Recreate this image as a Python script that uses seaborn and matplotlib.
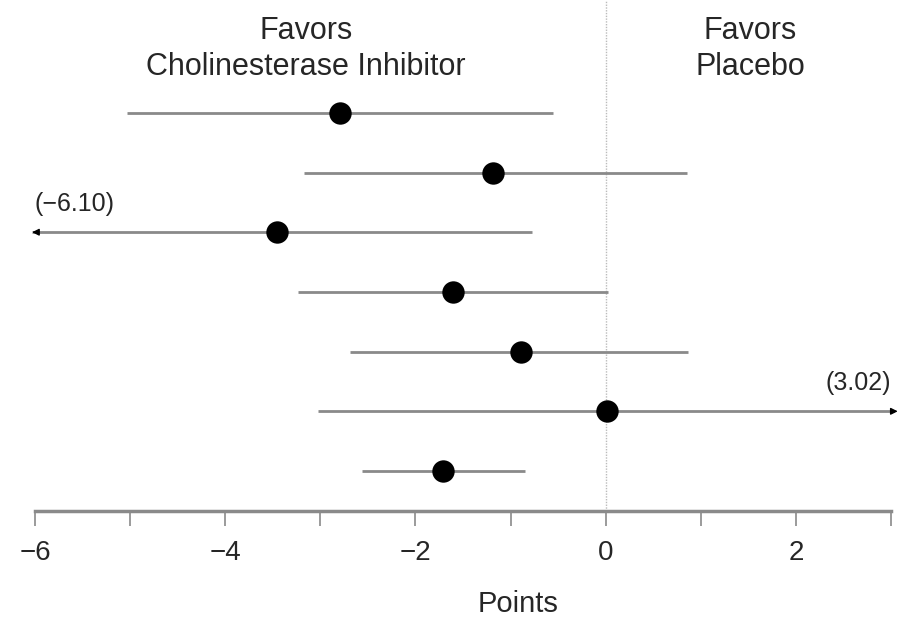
import matplotlib
matplotlib.use("Agg")
import matplotlib.pyplot as plt
import seaborn as sns
import pandas as pd

# data (points, mean difference with 95% CI)
rows = [0, 1, 2, 3, 4, 5, 6]
estimates = [-2.79, -1.18, -3.46, -1.60, -0.89, 0.01, -1.71]
ci_low = [-5.03, -3.17, -6.10, -3.23, -2.69, -3.02, -2.56]
ci_high = [-0.55, 0.86, -0.77, 0.02, 0.87, 3.02, -0.85]
xticks = [-6, -5, -4, -3, -2, -1, 0, 1, 2, 3]
xticklabels = ["\u22126", "", "\u22124", "", "\u22122", "", "0", "", "2", ""]

df = pd.DataFrame({"row": rows, "est": estimates, "lo": ci_low, "hi": ci_high})

sns.set_style("white")
plt.rcParams['font.family'] = ['Liberation Sans', 'DejaVu Sans']

fig = plt.figure(figsize=(9.03, 6.19), dpi=100)
ax = fig.add_axes([35 / 903, 1 - 511 / 619, 856 / 903, 511 / 619])

xmin, xmax = -6, 3
line_col = "#8a8a8a"

# reference line at zero
ax.axvline(0, color="#bbbbbb", lw=1, ls=(0, (1, 1)), zorder=0)

for _, r in df.iterrows():
    lo, hi = r["lo"], r["hi"]
    if lo < xmin:
        ax.hlines(r["row"], xmin - 0.03, hi, color=line_col, lw=2, clip_on=False)
        ax.annotate("", xy=(xmin - 0.06, r["row"]), xytext=(xmin + 0.05, r["row"]),
                    arrowprops=dict(arrowstyle="-|>", color="black", lw=1, mutation_scale=10),
                    annotation_clip=False)
        ax.text(xmin, r["row"] - 0.47, f"(\u2212{abs(lo):.2f})", fontsize=18, ha="left", va="center")
    elif hi > xmax:
        ax.hlines(r["row"], lo, xmax + 0.03, color=line_col, lw=2, clip_on=False)
        ax.annotate("", xy=(xmax + 0.1, r["row"]), xytext=(xmax - 0.01, r["row"]),
                    arrowprops=dict(arrowstyle="-|>", color="black", lw=1, mutation_scale=10),
                    annotation_clip=False)
        ax.text(xmax, r["row"] - 0.47, f"({hi:.2f})", fontsize=18, ha="right", va="center")
    else:
        ax.hlines(r["row"], lo, hi, color=line_col, lw=2)

sns.scatterplot(data=df, x="est", y="row", ax=ax, color="black", s=260,
                edgecolor="black", linewidth=0, zorder=3, legend=False)

ax.text(-3.15, -1.07, "Favors\nCholinesterase Inhibitor", fontsize=22, ha="center",
        va="center", linespacing=1.25)
ax.text(1.52, -1.07, "Favors\nPlacebo", fontsize=22, ha="center", va="center",
        linespacing=1.25)

ax.set_xlim(xmin, xmax)
ax.set_ylim(6.67, -1.89)
ax.set_yticks([])
ax.set_xticks(xticks)
ax.set_xticklabels(xticklabels, fontsize=20)
ax.tick_params(axis="x", bottom=True, direction="out", length=11, width=1.2,
               color=line_col, pad=10)
for s in ["top", "right", "left"]:
    ax.spines[s].set_visible(False)
ax.spines["bottom"].set_color(line_col)
ax.spines["bottom"].set_linewidth(2.5)

ax.set_xlabel("Points", fontsize=21)
ax.xaxis.set_label_coords((518 - 35) / 856, -0.155)
ax.set_ylabel("")

fig.savefig("out.png", dpi=100)
